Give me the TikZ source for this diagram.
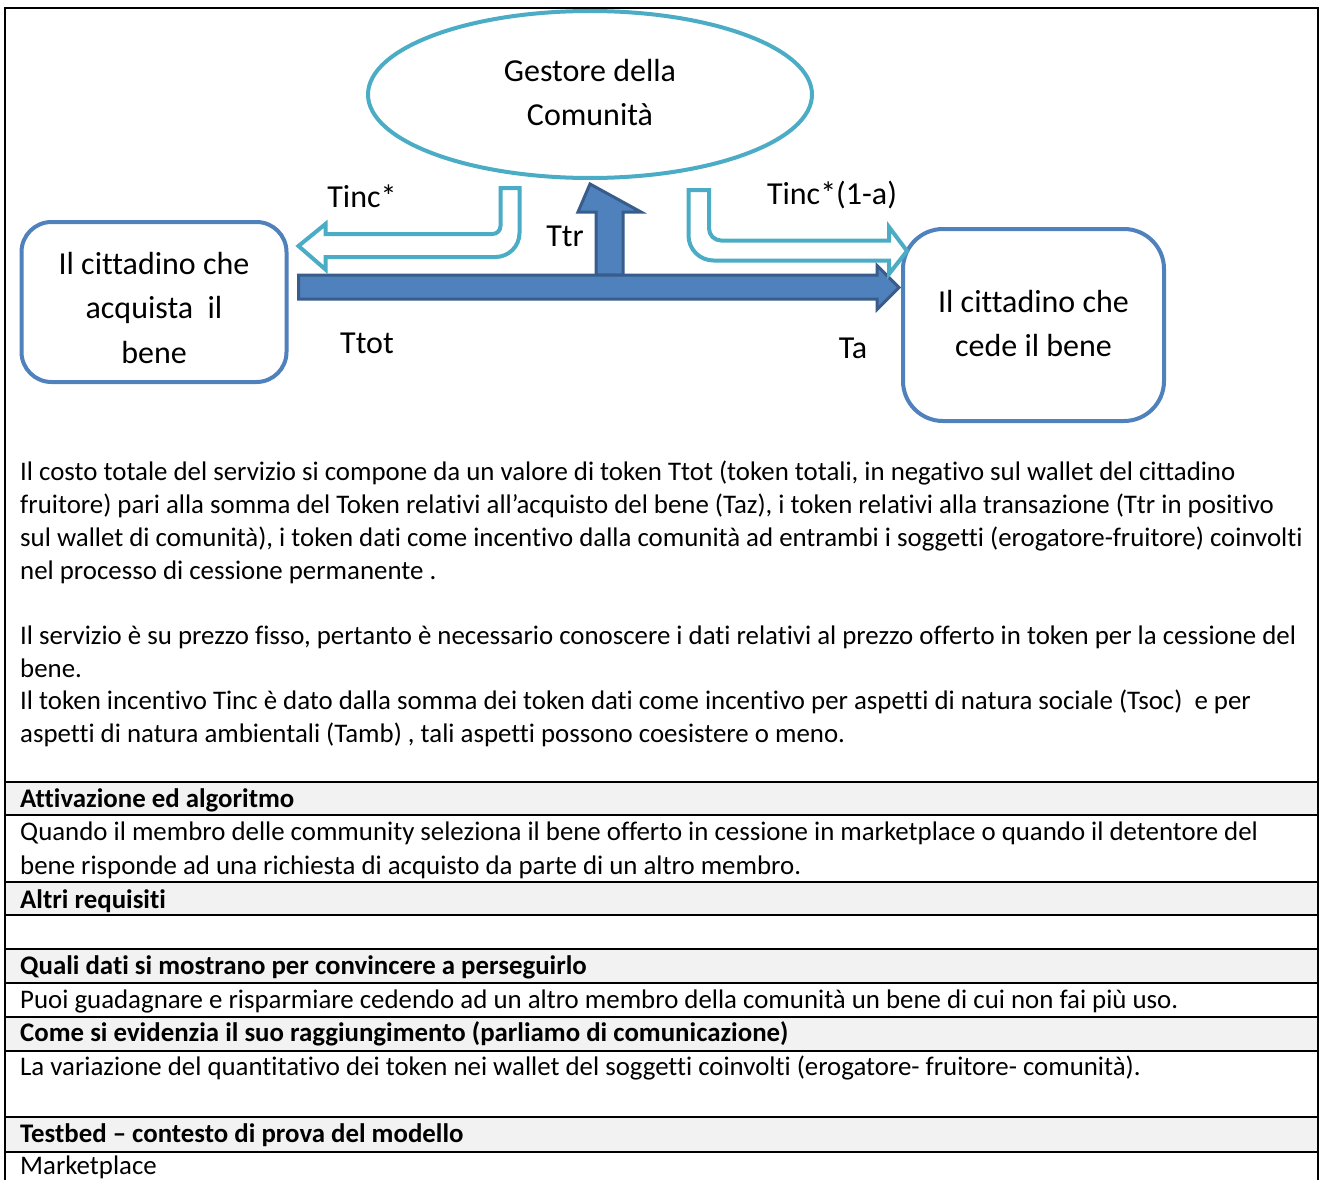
\documentclass[tikz,border=0pt]{standalone}
\usepackage{fontspec}
\setmainfont{Carlito}[Ligatures=NoCommon]
\usetikzlibrary{shapes.geometric}
\definecolor{tealacc}{HTML}{4BACC6}
\definecolor{blueacc}{HTML}{4F81BD}
\definecolor{bluedark}{HTML}{385D8A}
\definecolor{hdrgray}{HTML}{F2F2F2}
\begin{document}
\begin{tikzpicture}[x=1pt,y=-1pt,
  diag/.style={font=\fontsize{32}{44.5}\selectfont, align=center, inner sep=0pt},
  gestore/.style={ellipse, draw=tealacc, line width=4pt, minimum width=444pt, minimum height=167pt, inner sep=0pt},
  citbox/.style={rectangle, draw=blueacc, line width=4pt, inner sep=0pt},
  bigarrow/.style={fill=blueacc, draw=bluedark, line width=3pt, line join=miter},
  incarrow/.style={fill=white, draw=tealacc, line width=4pt, line join=miter},
  lbl/.style={font=\fontsize{32}{38}\selectfont, anchor=base, inner sep=0pt},
  body/.style={font=\fontsize{26.85}{33.3}\selectfont, anchor=base west, inner sep=0pt},
  bodyb/.style={font=\fontsize{26.85}{33.3}\selectfont\bfseries, anchor=base west, inner sep=0pt},
  tabrule/.style={line width=2pt, draw=black},
  hdr/.style={fill=hdrgray, draw=none}]
\useasboundingbox (0,0) rectangle (1322,1180);
\clip (0,0) rectangle (1322,1180);
\fill[white] (0,0) rectangle (1322,1180);

% table header fills
\path[hdr] (5,781.5) rectangle (1318,815);
\path[hdr] (5,882) rectangle (1318,915);
\path[hdr] (5,949) rectangle (1318,983);
\path[hdr] (5,1017) rectangle (1318,1051);
\path[hdr] (5,1117) rectangle (1318,1152);
% table rules
\foreach \yy in {781.5,815,882,915,949,983,1017,1051,1117,1152}
  \draw[tabrule] (5,\yy) -- (1318,\yy);
% outer border
\draw[tabrule] (5,1200) -- (5,8) -- (1318,8) -- (1318,1200);

% diagram shapes
\node[gestore] (gest) at (590,94.5) {};
\node[citbox, rounded corners=30pt, minimum width=265pt, minimum height=160pt] (buyer) at (154,302) {};
\node[citbox, rounded corners=40pt, minimum width=261pt, minimum height=192pt] (seller) at (1033.5,325) {};
% shape texts
\node[diag] (gesttext) at ([yshift=2pt]gest.center) {Gestore della\\Comunità};
\node[diag] (buyertext) at ([yshift=-5.5pt]buyer.center) {Il cittadino che\\acquista\ \ il\\bene};
\node[diag] (sellertext) at ([yshift=1.5pt]seller.center) {Il cittadino che\\cede il bene};

% Ttr arrow (up to the manager)
\coordinate (ttrbase) at (610,275);
\draw[bigarrow] ([xshift=-14pt]ttrbase) -- (596,212) -- (578,212) -- (gest.south |- 0,184) -- (641,212) -- (623,212) -- ([xshift=13pt]ttrbase) -- cycle;
% Ttot arrow (buyer to seller)
\draw[bigarrow] ([xshift=10pt]buyer.east |- 0,275) -- (877,275) -- (877,265.5) -- ([xshift=-2pt]seller.west |- 0,287.5) -- (877,309.5) -- (877,299) -- ([xshift=10pt]buyer.east |- 0,299) -- cycle;

% Tinc* arrow (manager to buyer)
\draw[incarrow] (325.5,224) -- ([xshift=10pt]buyer.east |- 0,246) -- (325.5,269.5) -- (325.5,257) -- (495.5,257)
  .. controls (508.75,257) and (519.5,246.25) .. (519.5,233) -- (519.5,188) -- (500.5,188) -- (500.5,226)
  .. controls (500.5,230.4) and (496.9,234) .. (492.5,234) -- (325.5,234) -- cycle;
% Tinc*(1-a) arrow (manager to seller)
\draw[incarrow] (889,227) -- ([xshift=6pt]seller.west |- 0,251) -- (889,274) -- (889,260.5) -- (713.5,260.5)
  .. controls (699.7,260.5) and (688.5,249.3) .. (688.5,235.5) -- (688.5,190) -- (709,190) -- (709,228.5)
  .. controls (709,235.1) and (714.4,240.5) .. (721,240.5) -- (889,240.5) -- cycle;

% arrow labels
\node[lbl] (lTinc) at (362,207) {Tinc*};
\node[lbl] (lTtr) at (565,246) {Ttr};
\node[lbl] (lTinca) at (832,204) {Tinc*(1-a)};
\node[lbl] (lTtot) at (367,353) {Ttot};
\node[lbl] (lTa) at (853,358) {Ta};

% description text
\node[body] (p1) at (20,480) {Il costo totale del servizio si compone da un valore di token Ttot (token totali, in negativo sul wallet del cittadino};
\node[body] (p2) at (20,513) {fruitore) pari alla somma del Token relativi all’acquisto del bene (Taz), i token relativi alla transazione (Ttr in positivo};
\node[body] (p3) at (20,546) {sul wallet di comunità), i token dati come incentivo dalla comunità ad entrambi i soggetti (erogatore-fruitore) coinvolti};
\node[body] (p4) at (20,579) {nel processo di cessione permanente .};
\node[body] (p5) at (20,644) {Il servizio è su prezzo fisso, pertanto è necessario conoscere i dati relativi al prezzo offerto in token per la cessione del};
\node[body] (p6) at (20,677) {bene.};
\node[body] (p7) at (20,709) {Il token incentivo Tinc è dato dalla somma dei token dati come incentivo per aspetti di natura sociale (Tsoc)\ \ e per};
\node[body] (p8) at (20,742) {aspetti di natura ambientali (Tamb) , tali aspetti possono coesistere o meno.};

% table text
\node[bodyb] (h1) at (20,807) {Attivazione ed algoritmo};
\node[body] (t1a) at (20,840.5) {Quando il membro delle community seleziona il bene offerto in cessione in marketplace o quando il detentore del};
\node[body] (t1b) at (20,874) {bene risponde ad una richiesta di acquisto da parte di un altro membro.};
\node[bodyb] (h2) at (20,908) {Altri requisiti};
\node[bodyb] (h3) at (20,974) {Quali dati si mostrano per convincere a perseguirlo};
\node[body] (t3) at (20,1008) {Puoi guadagnare e risparmiare cedendo ad un altro membro della comunità un bene di cui non fai più uso.};
\node[bodyb] (h4) at (20,1041.5) {Come si evidenzia il suo raggiungimento (parliamo di comunicazione)};
\node[body] (t4) at (20,1075.5) {La variazione del quantitativo dei token nei wallet del soggetti coinvolti (erogatore- fruitore- comunità).};
\node[bodyb] (h5) at (20,1142) {Testbed – contesto di prova del modello};
\node[body] (t5) at (20,1174.5) {Marketplace};
\end{tikzpicture}
\end{document}
